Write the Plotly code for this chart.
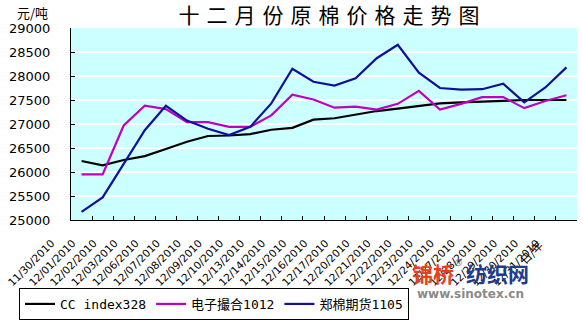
import plotly.graph_objects as go

dates = ["11/30/2010", "12/01/2010", "12/02/2010", "12/03/2010", "12/06/2010", "12/07/2010",
         "12/08/2010", "12/09/2010", "12/10/2010", "12/13/2010", "12/14/2010", "12/15/2010",
         "12/16/2010", "12/17/2010", "12/20/2010", "12/21/2010", "12/22/2010", "12/23/2010",
         "12/24/2010", "12/27/2010", "12/28/2010", "12/29/2010", "12/30/2010", "12/31/2010"]

cc_index328 = [26230, 26140, 26250, 26330, 26480, 26630, 26750, 26760, 26790, 26880, 26920, 27090,
               27120, 27190, 27270, 27320, 27380, 27430, 27450, 27465, 27495, 27500, 27500, 27500]

dianzi_1012 = [25950, 25950, 26970, 27380, 27310, 27040, 27040, 26940, 26940, 27180, 27610, 27510,
               27340, 27360, 27300, 27420, 27690, 27300, 27420, 27560, 27560, 27330, 27480, 27600]

zhengmian_1105 = [25170, 25470, 26170, 26870, 27380, 27070, 26900, 26770, 26940, 27430, 28150, 27880,
                  27800, 27950, 28370, 28650, 28070, 27750, 27715, 27725, 27840, 27450, 27760, 28180]

series_names = ["CC index328", "电子撮合1012", "郑棉期货1105"]
y_ticks = [25000, 25500, 26000, 26500, 27000, 27500, 28000, 28500, 29000]
y_tick_labels = ["25000", "25500", "26000", "26500", "27000", "27500", "28000", "28500", "29000"]

W, H = 583, 326
L, R, T, B = 71, 6, 28, 89
PW, PH = W - L - R, H - T - B


def px(xp):
    return (xp - L) / PW


def py(yp):
    return (H - B - yp) / PH


fig = go.Figure()
for name, vals, col in zip(series_names, [cc_index328, dianzi_1012, zhengmian_1105],
                           ["#000000", "#C000C0", "#10109A"]):
    fig.add_trace(go.Scatter(x=dates, y=vals, mode="lines", name=name,
                             line=dict(color=col, width=2.2)))

num_font = "DejaVu Sans, Noto Sans CJK SC"

fig.update_layout(
    width=W, height=H,
    margin=dict(l=L, r=R, t=T, b=B),
    paper_bgcolor="white",
    plot_bgcolor="#CCFFFF",
    showlegend=True,
    title=dict(text="十\u2004二\u2004月\u2004份\u2004原\u2004棉\u2004价\u2004格\u2004走\u2004势\u2004图",
               xref="container", yref="container", x=329 / W, y=1 - 16 / H,
               xanchor="center", yanchor="middle",
               font=dict(family="Noto Sans CJK SC", size=21, color="black")),
    xaxis=dict(type="category", range=[-0.5, len(dates) - 0.5],
               showline=True, linecolor="black", linewidth=1,
               ticks="inside", tickson="boundaries", ticklen=4, tickcolor="black",
               tickangle=-45, ticklabelshift=-30, ticklabelstandoff=12,
               tickfont=dict(family=num_font, size=10.5, color="black"),
               showgrid=False, zeroline=False),
    yaxis=dict(range=[25000, 29000], tickvals=y_ticks, ticktext=y_tick_labels,
               showgrid=True, gridcolor="white", gridwidth=2,
               showline=True, linecolor="black", linewidth=1,
               ticks="inside", ticklen=4, tickcolor="black",
               ticklabelstandoff=17,
               tickfont=dict(family=num_font, size=13, color="black"),
               zeroline=False),
    legend=dict(orientation="h", x=px(19), y=py(311), xanchor="left", yanchor="top",
                bgcolor="white", bordercolor="black", borderwidth=1,
                font=dict(family="DejaVu Sans Mono, Noto Sans CJK SC", size=13, color="black"),
                itemwidth=30, tracegroupgap=0),
)

annotations = [
    dict(text="元/吨", x=px(32), y=py(11), font=dict(family="Noto Sans CJK SC", size=13)),
    dict(text="日/年", x=px(531), y=py(272), textangle=-45,
         font=dict(family="Noto Sans CJK SC", size=11)),
    dict(text="<b>锦桥</b>", x=px(433), y=py(295),
         font=dict(family="Noto Sans CJK SC", size=21, color="#E8401C")),
    dict(text="®", x=px(458), y=py(284),
         font=dict(family="DejaVu Sans", size=9, color="#555555")),
    dict(text="<b>纺织网</b>", x=px(497), y=py(295),
         font=dict(family="Noto Sans CJK SC", size=21, color="#1E3C8C")),
    dict(text="<b>www.sinotex.cn</b>", x=px(470), y=py(318),
         font=dict(family="DejaVu Sans", size=12, color="#8A8A8A")),
]
for a in annotations:
    a.update(xref="paper", yref="paper", showarrow=False, xanchor="center", yanchor="middle")
    a.setdefault("font", {}).setdefault("color", "black")
fig.update_layout(annotations=annotations)

fig.write_html("out.html")
